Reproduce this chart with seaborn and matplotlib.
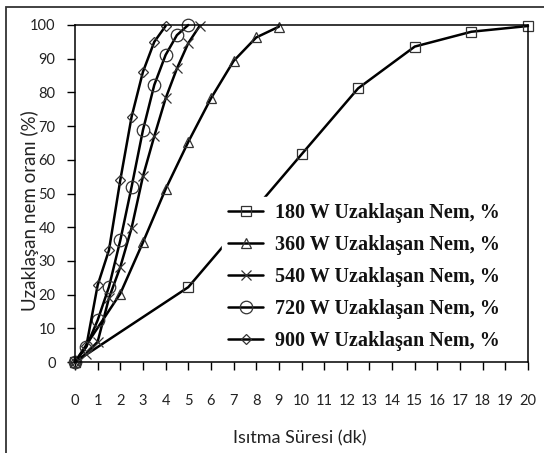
import matplotlib
matplotlib.use("Agg")
import matplotlib.pyplot as plt
import seaborn as sns
import pandas as pd
from matplotlib.patches import Rectangle

# ---- data ----
x_180 = [0, 5, 10, 12.5, 15, 17.5, 20]
y_180 = [0, 22.2, 61.6, 81.2, 93.6, 98.0, 99.7]
x_360 = [0, 2, 3, 4, 5, 6, 7, 8, 9]
y_360 = [0, 20.3, 35.5, 51.3, 65.3, 78.2, 89.3, 96.3, 99.5]
x_540 = [0, 0.5, 1, 1.5, 2, 2.5, 3, 3.5, 4, 4.5, 5, 5.5]
y_540 = [0, 2.5, 6.0, 19.0, 28.2, 39.8, 55.1, 67.0, 78.2, 87.1, 94.6, 99.7]
x_720 = [0, 0.5, 1, 1.5, 2, 2.5, 3, 3.5, 4, 4.5, 5]
y_720 = [0, 4.5, 12.4, 22.3, 36.1, 52.0, 68.8, 82.2, 91.1, 97.0, 100]
x_900 = [0, 0.5, 1, 1.5, 2, 2.5, 3, 3.5, 4]
y_900 = [0, 4.7, 22.8, 33.2, 54.0, 72.8, 86.1, 95.0, 99.7]

series_names = ["180 W Uzaklaşan Nem, %", "360 W Uzaklaşan Nem, %",
                "540 W Uzaklaşan Nem, %", "720 W Uzaklaşan Nem, %",
                "900 W Uzaklaşan Nem, %"]
xs = [x_180, x_360, x_540, x_720, x_900]
ys = [y_180, y_360, y_540, y_720, y_900]
x_ticks = list(range(0, 21))
y_ticks = list(range(0, 101, 10))
x_label = "Isıtma Süresi (dk)"
y_label = "Uzaklaşan nem oranı (%)"

# ---- style ----
marker_styles = ["s", "^", "x", "o", "D"]
marker_sizes = [6.5, 6.5, 7, 9, 5]

sns.set_theme(style="white")
plt.rcParams["font.family"] = ["Lato", "DejaVu Sans"]

fig = plt.figure(figsize=(5.44, 4.53), dpi=100)
ax = fig.add_axes([75 / 544, 1 - 362 / 453, 453 / 544, 337 / 453])

for name, xv, yv, m, ms in zip(series_names, xs, ys, marker_styles, marker_sizes):
    df = pd.DataFrame({"x": xv, "y": yv})
    sns.lineplot(data=df, x="x", y="y", ax=ax, color="black", linewidth=1.8,
                 marker=m, markersize=ms, markerfacecolor="none",
                 markeredgecolor="#333333", markeredgewidth=0.9,
                 label=name, clip_on=False, sort=False, estimator=None)

ax.set_xlim(0, 20)
ax.set_ylim(0, 100)
ax.set_xticks(x_ticks)
ax.set_yticks(y_ticks)
ax.set_xticklabels([str(t) for t in x_ticks])
ax.set_yticklabels([str(t) for t in y_ticks])
ax.tick_params(axis="x", direction="out", length=6, width=1, color="black",
               pad=17, labelsize=10.5, labelcolor="#222222", bottom=True)
ax.tick_params(axis="y", direction="out", length=6, width=1, color="black",
               pad=8, labelsize=10.5, labelcolor="#222222", left=True)
for s in ax.spines.values():
    s.set_color("black")
    s.set_linewidth(1.1)

ax.set_xlabel(x_label, fontsize=13, color="#222222")
ax.set_ylabel(y_label, fontsize=13.5, color="#222222")
ax.xaxis.set_label_coords(0.497, -0.2255)
ax.xaxis.label.set_va("center")
ax.yaxis.set_label_coords(-0.099, 0.45)
ax.yaxis.label.set_va("center")

leg = ax.legend(loc="upper left", bbox_to_anchor=(222 / 544, 1 - 197 / 453),
                bbox_transform=fig.transFigure, frameon=True, fancybox=False,
                framealpha=1, edgecolor="white", facecolor="white",
                prop={"family": "Liberation Serif", "weight": "bold", "size": 14.5},
                handlelength=1.75, handletextpad=0.6, labelspacing=0.6,
                borderpad=0.3, borderaxespad=0)
for t in leg.get_texts():
    t.set_color("#111111")

fig.patches.append(Rectangle((6 / 544, -0.1), 1.2, 1 - 7 / 453 + 0.1,
                             transform=fig.transFigure, fill=False,
                             edgecolor="#333333", linewidth=1.3))

fig.savefig("out.png", dpi=100, facecolor="white")
